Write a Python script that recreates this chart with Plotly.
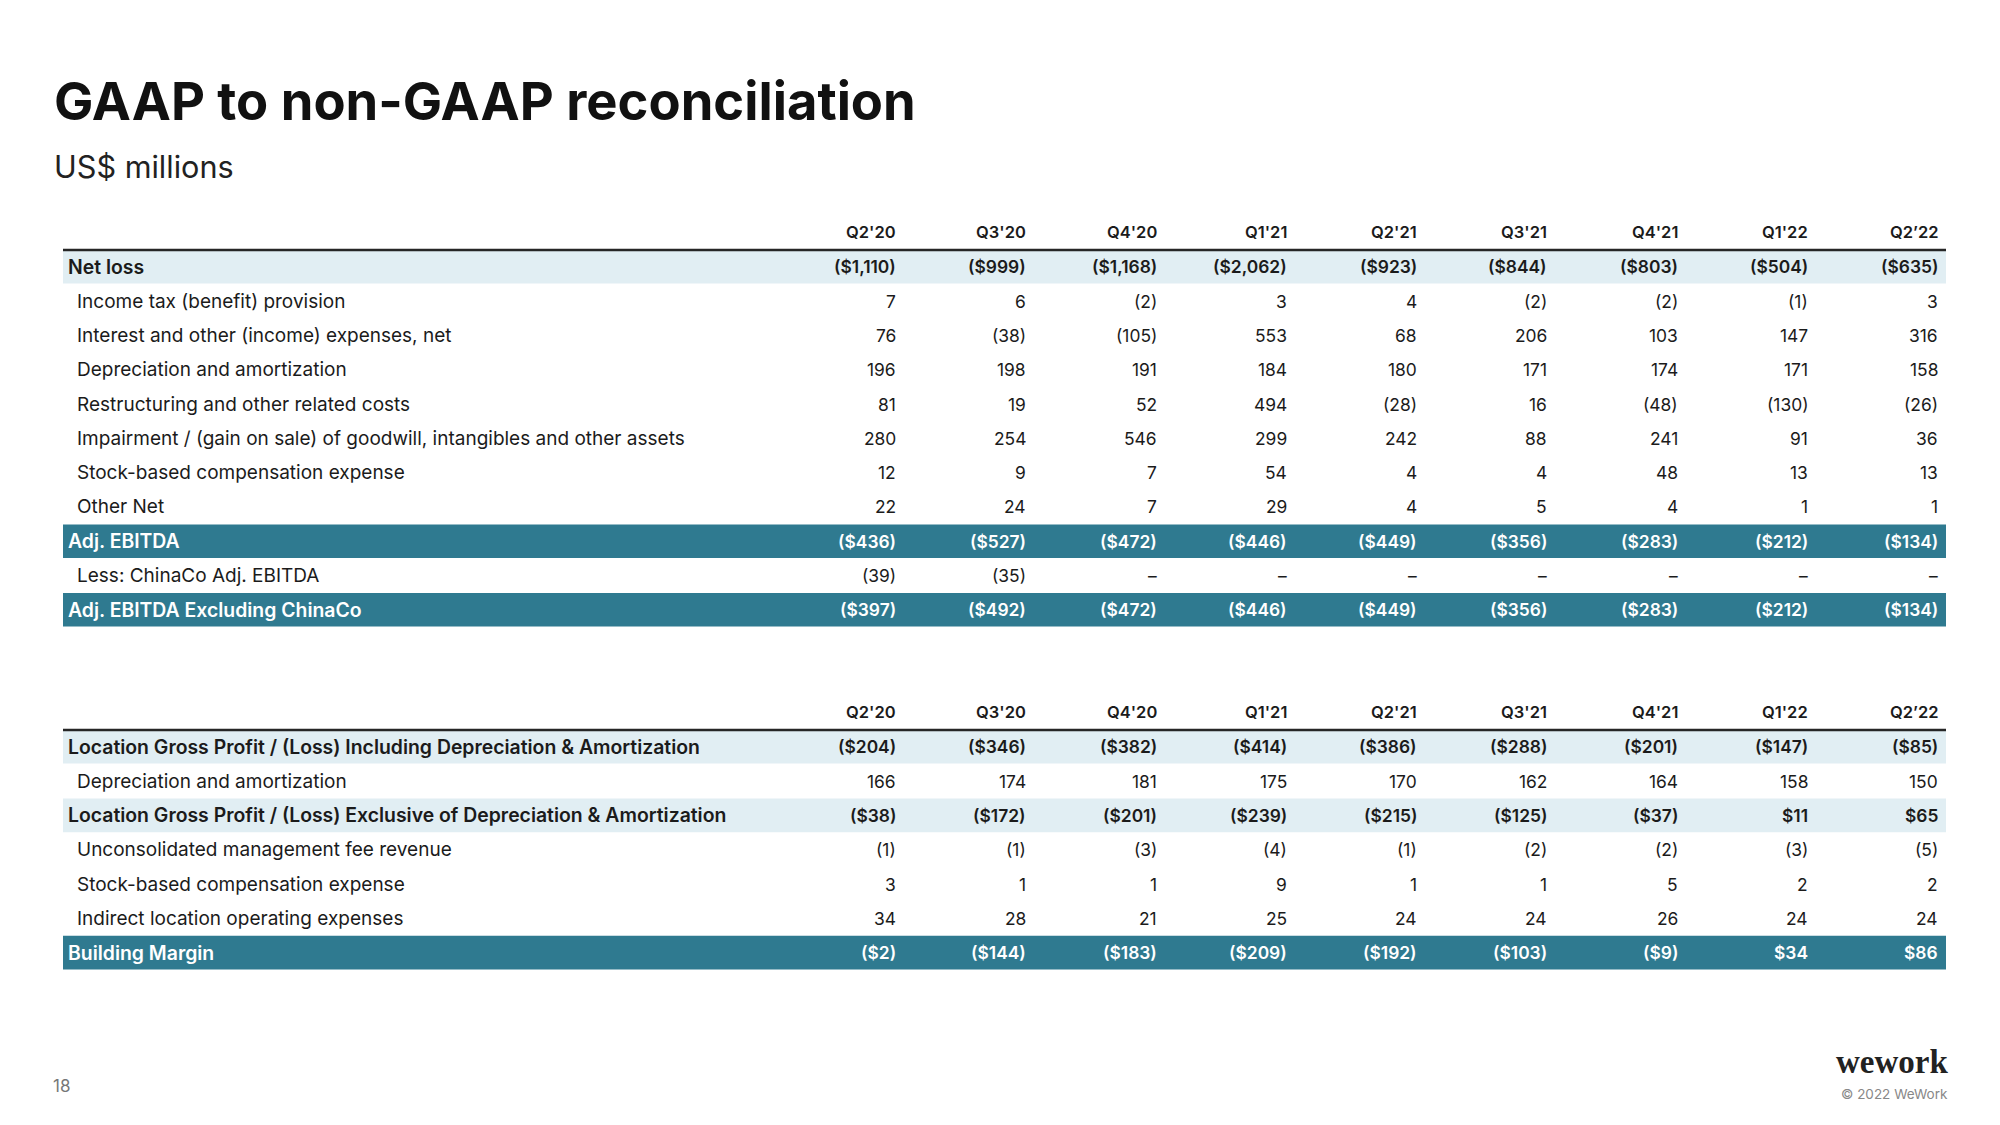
import plotly.graph_objects as go

# ---------------- data ----------------
quarters = ["Q2'20", "Q3'20", "Q4'20", "Q1'21", "Q2'21", "Q3'21", "Q4'21", "Q1'22", "Q2’22"]

# Table 1: Net loss -> Adj. EBITDA
net_loss = [-1110, -999, -1168, -2062, -923, -844, -803, -504, -635]
income_tax = [7, 6, -2, 3, 4, -2, -2, -1, 3]
interest_other = [76, -38, -105, 553, 68, 206, 103, 147, 316]
dep_amort = [196, 198, 191, 184, 180, 171, 174, 171, 158]
restructuring = [81, 19, 52, 494, -28, 16, -48, -130, -26]
impairment = [280, 254, 546, 299, 242, 88, 241, 91, 36]
stock_comp = [12, 9, 7, 54, 4, 4, 48, 13, 13]
other_net = [22, 24, 7, 29, 4, 5, 4, 1, 1]
adj_ebitda = [-436, -527, -472, -446, -449, -356, -283, -212, -134]
chinaco_ebitda = [-39, -35, None, None, None, None, None, None, None]
adj_ebitda_ex_china = [-397, -492, -472, -446, -449, -356, -283, -212, -134]

# Table 2: Location gross profit -> Building margin
lgp_incl_da = [-204, -346, -382, -414, -386, -288, -201, -147, -85]
dep_amort_loc = [166, 174, 181, 175, 170, 162, 164, 158, 150]
lgp_excl_da = [-38, -172, -201, -239, -215, -125, -37, 11, 65]
mgmt_fee_rev = [-1, -1, -3, -4, -1, -2, -2, -3, -5]
stock_comp_loc = [3, 1, 1, 9, 1, 1, 5, 2, 2]
indirect_opex = [34, 28, 21, 25, 24, 24, 26, 24, 24]
building_margin = [-2, -144, -183, -209, -192, -103, -9, 34, 86]

table1_rows = [
    ("Net loss", net_loss, "light"),
    ("Income tax (benefit) provision", income_tax, None),
    ("Interest and other (income) expenses, net", interest_other, None),
    ("Depreciation and amortization", dep_amort, None),
    ("Restructuring and other related costs", restructuring, None),
    ("Impairment / (gain on sale) of goodwill, intangibles and other assets", impairment, None),
    ("Stock-based compensation expense", stock_comp, None),
    ("Other Net", other_net, None),
    ("Adj. EBITDA", adj_ebitda, "dark"),
    ("Less: ChinaCo Adj. EBITDA", chinaco_ebitda, None),
    ("Adj. EBITDA Excluding ChinaCo", adj_ebitda_ex_china, "dark"),
]
table2_rows = [
    ("Location Gross Profit / (Loss) Including Depreciation & Amortization", lgp_incl_da, "light"),
    ("Depreciation and amortization", dep_amort_loc, None),
    ("Location Gross Profit / (Loss) Exclusive of Depreciation & Amortization", lgp_excl_da, "light"),
    ("Unconsolidated management fee revenue", mgmt_fee_rev, None),
    ("Stock-based compensation expense", stock_comp_loc, None),
    ("Indirect location operating expenses", indirect_opex, None),
    ("Building Margin", building_margin, "dark"),
]

# ---------------- style / layout ----------------
W, H = 2000, 1125
PAGE_OFF = 8  # default body margin of the html page
FONT = "Inter"
TXT = "#1b1b1b"
LIGHT = "#E1EEF3"
DARK = "#2F7A90"
LINE = "#262626"

X_LEFT, X_RIGHT = 63, 1946
LABEL_X_BOLD, LABEL_X_INDENT = 66, 75
COL0_RIGHT, COL_PITCH = 898, 130.25
ROW_PITCH, BAND_H = 34.3, 33.6
BODY = 17.4
LABEL = 19
LABEL_BOLD = 19.4
HEAD = 16.5


def fmt(v, total):
    if v is None:
        return "–"
    s = f"{abs(v):,}"
    if total:
        s = "$" + s
    return f"({s})" if v < 0 else s


fig = go.Figure()
shapes = []
annotations = []


def ann(x, y, text, xanchor, size=BODY, color=TXT, weight=400, family=FONT):
    annotations.append(dict(
        x=x, y=y, xref="x", yref="y", text=text, showarrow=False,
        xanchor=xanchor, yanchor="middle",
        font=dict(family=family, size=size, color=color, weight=weight),
    ))


def draw_table(rows, header_y, line_y):
    for j, q in enumerate(quarters):
        ann(COL0_RIGHT + j * COL_PITCH, header_y, q, "right", size=HEAD, weight=600)
    first_center = line_y + BAND_H / 2
    for i, (label, vals, band) in enumerate(rows):
        yc = first_center + i * ROW_PITCH
        if band:
            shapes.append(dict(
                type="rect", xref="x", yref="y", x0=X_LEFT, x1=X_RIGHT,
                y0=yc - BAND_H / 2, y1=yc + BAND_H / 2,
                fillcolor=LIGHT if band == "light" else DARK,
                line=dict(width=0), layer="below",
            ))
        bold = band is not None
        color = "white" if band == "dark" else TXT
        w = 600 if bold else 400
        ann(LABEL_X_BOLD if bold else LABEL_X_INDENT, yc, label, "left",
            size=LABEL_BOLD if bold else LABEL, color=color, weight=w)
        for j, v in enumerate(vals):
            ann(COL0_RIGHT + j * COL_PITCH, yc, fmt(v, bold), "right", color=color, weight=w)
    shapes.append(dict(type="line", xref="x", yref="y", x0=X_LEFT, x1=X_RIGHT,
                       y0=line_y, y1=line_y, line=dict(color=LINE, width=2.5)))


draw_table(table1_rows, header_y=232, line_y=250)
draw_table(table2_rows, header_y=712, line_y=730)

# titles and footer
ann(52, 101, "GAAP to non-GAAP reconciliation", "left", size=52.5, color="#111", weight=700)
ann(52, 166, "US$ millions", "left", size=30.6, color="#222", weight=400)
ann(51, 1086, "18", "left", size=17, color="#777", weight=400)
ann(1950, 1062, "wework", "right", size=33, color="#222", weight=700, family="Liberation Serif")
ann(1950, 1094, "© 2022 WeWork", "right", size=13.5, color="#888", weight=400)

fig.update_layout(
    width=W - PAGE_OFF, height=H - PAGE_OFF,
    margin=dict(l=0, r=0, t=0, b=0),
    paper_bgcolor="white", plot_bgcolor="white",
    xaxis=dict(range=[PAGE_OFF, W], visible=False, fixedrange=True),
    yaxis=dict(range=[H, PAGE_OFF], visible=False, fixedrange=True),
    shapes=shapes, annotations=annotations,
    showlegend=False,
)
fig.write_html("out.html")
